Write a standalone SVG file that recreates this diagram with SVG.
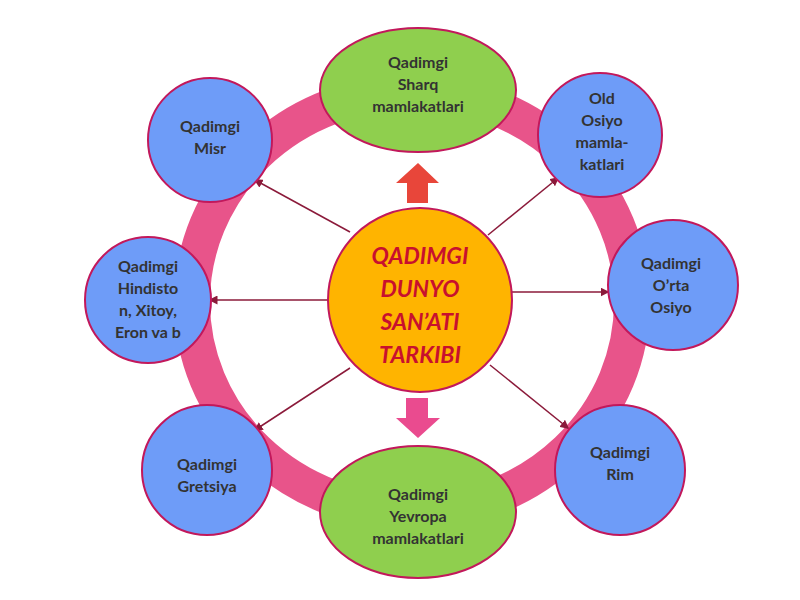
<svg xmlns="http://www.w3.org/2000/svg" width="800" height="600" viewBox="0 0 800 600">
<style>
.b{fill:#6e9cf8;stroke:#c2185b;stroke-width:2}
.g{fill:#8fcf4e;stroke:#c2185b;stroke-width:2}
.t{font-family:Lato,"Open Sans",sans-serif;font-size:16px;font-weight:bold;fill:#333;text-anchor:middle}
.c{font-family:Lato,"Open Sans",sans-serif;font-size:23px;font-weight:bold;font-style:italic;fill:#c8102e;text-anchor:middle}
.l{stroke:#8b1a3a;stroke-width:1.5;fill:none;marker-end:url(#m)}
</style>
<defs><marker id="m" markerWidth="6" markerHeight="6" refX="5" refY="3" orient="auto"><path d="M0,0L6,3L0,6z" fill="#8b1a3a"/></marker></defs>
<ellipse cx="412" cy="302" rx="220" ry="210" fill="none" stroke="#e8548a" stroke-width="36"/>
<g id="connectors">
<line class="l" x1="350" y1="232" x2="255" y2="180"/>
<line class="l" x1="488" y1="235" x2="558" y2="178"/>
<line class="l" x1="328" y1="300" x2="210" y2="300"/>
<line class="l" x1="512" y1="292" x2="608" y2="292"/>
<line class="l" x1="350" y1="368" x2="255" y2="430"/>
<line class="l" x1="490" y1="365" x2="568" y2="428"/>
<path d="M418,163L439,183L428,183L428,203L407,203L407,183L396,183z" fill="#e8463a"/>
<path d="M418,438L440,418L428,418L428,398L406,398L406,418L396,418z" fill="#ea4b8f"/>
</g>
<g id="center"><circle cx="420" cy="300" r="92" fill="#ffb400" stroke="#c2185b" stroke-width="2"/>
<text class="c" x="420" y="264">QADIMGI</text><text class="c" x="420" y="297">DUNYO</text><text class="c" x="420" y="330">SAN’ATI</text><text class="c" x="420" y="363">TARKIBI</text></g>
<g id="sharq"><ellipse class="g" cx="418" cy="90" rx="98" ry="62"/><text class="t" x="418" y="68">Qadimgi</text><text class="t" x="418" y="90">Sharq</text><text class="t" x="418" y="112">mamlakatlari</text></g>
<g id="yevropa"><ellipse class="g" cx="418" cy="512" rx="98" ry="66"/><text class="t" x="418" y="500">Qadimgi</text><text class="t" x="418" y="522">Yevropa</text><text class="t" x="418" y="544">mamlakatlari</text></g>
<g id="misr"><circle class="b" cx="210" cy="140" r="62"/><text class="t" x="210" y="132">Qadimgi</text><text class="t" x="210" y="154">Misr</text></g>
<g id="osiyo"><circle class="b" cx="600" cy="135" r="62"/><text class="t" x="602" y="104">Old</text><text class="t" x="602" y="126">Osiyo</text><text class="t" x="602" y="148">mamla-</text><text class="t" x="602" y="170">katlari</text></g>
<g id="hind"><circle class="b" cx="148" cy="300" r="63"/><text class="t" x="148" y="272">Qadimgi</text><text class="t" x="148" y="294">Hindisto</text><text class="t" x="148" y="316">n, Xitoy,</text><text class="t" x="148" y="338">Eron va b</text></g>
<g id="orta"><circle class="b" cx="673" cy="285" r="65"/><text class="t" x="671" y="269">Qadimgi</text><text class="t" x="671" y="291">O’rta</text><text class="t" x="671" y="313">Osiyo</text></g>
<g id="gretsiya"><circle class="b" cx="207" cy="470" r="65"/><text class="t" x="207" y="470">Qadimgi</text><text class="t" x="207" y="492">Gretsiya</text></g>
<g id="rim"><circle class="b" cx="620" cy="470" r="65"/><text class="t" x="620" y="458">Qadimgi</text><text class="t" x="620" y="480">Rim</text></g>
</svg>
